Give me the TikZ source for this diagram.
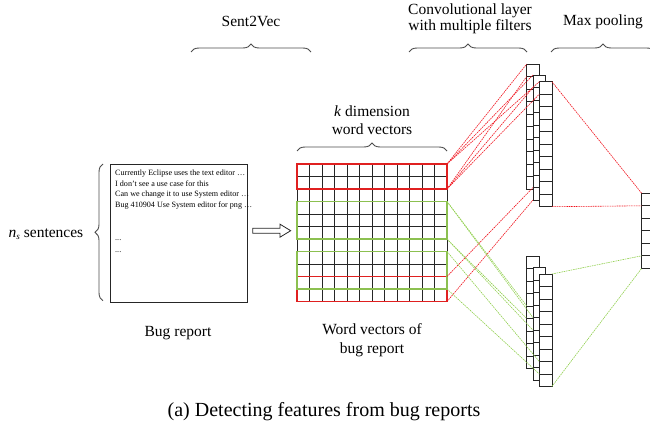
\documentclass[tikz,border=0pt]{standalone}
\usepackage{fontspec}
\setmainfont{Liberation Serif}
\usetikzlibrary{decorations.pathreplacing}
\definecolor{lnred}{HTML}{F0141E}
\definecolor{lngreen}{HTML}{92D050}
\definecolor{boxred}{HTML}{E02020}
\definecolor{boxgreen}{HTML}{8CC050}
\begin{document}
\begin{tikzpicture}[x=1pt,y=-1pt,
  lbl/.style={font=\fontsize{15.5}{18}\selectfont, align=center, inner sep=0pt},
  brc/.style={draw=black!70, line width=0.9pt, decorate, decoration={brace, amplitude=8pt}},
  cell/.style={draw=black!85, fill=white, line width=0.8pt, minimum width=12.6pt, minimum height=12.5pt, inner sep=0pt, outer sep=0pt, anchor=north west},
  gridline/.style={draw=black!85, line width=0.8pt},
  rbox/.style={draw=boxred, line width=1.2pt},
  gbox/.style={draw=boxgreen, line width=1.2pt},
  rdash/.style={draw=lnred, line width=0.6pt, dash pattern=on 1.6pt off 0.8pt},
  gdash/.style={draw=lngreen, line width=0.6pt, dash pattern=on 1.6pt off 0.8pt},
  txt/.style={font=\fontsize{8.1}{10}\selectfont, inner sep=0pt, anchor=base west}]
\useasboundingbox (0,0) rectangle (650,430);

% labels
\node[lbl] (s2v) at (251,21) {Sent2Vec};
\node[lbl] (kdim) at (372,120) {\textit{k} dimension\\word vectors};
\node[lbl, font=\fontsize{15.5}{16.5}\selectfont] (conv) at (470,19) {Convolutional layer\\with multiple filters};
\node[lbl] (mp) at (603,22) {Max pooling};
\node[lbl] (ns) at (46,234) {\textit{n}\raisebox{-0.35ex}{\fontsize{9}{9}\selectfont\textit{s}} sentences};
\node[lbl] (brlbl) at (178,333) {Bug report};
\node[lbl, font=\fontsize{15.5}{19.3}\selectfont] (wv) at (372,340) {Word vectors of\\bug report};
\node[font=\fontsize{20}{24}\selectfont, inner sep=0pt] (cap) at (324,412) {(a) Detecting features from bug reports};

% braces
\draw[brc] (191,52) -- (311,52);
\draw[brc] (297,151) -- (447,151);
\draw[brc] (409,52) -- (527,52);
\draw[brc] (551,52) -- (655,52);
\draw[brc] (103,300.7) -- (103,164);

% bug report box
\node[draw=black!85, line width=0.8pt, minimum width=137.3pt, minimum height=137.7pt, anchor=north west, inner sep=0pt] (bug) at (110,164) {};
\node[txt] (t1) at (115,176) {Currently Eclipse uses the text editor …};
\node[txt] (t2) at (115,186.5) {I don't see a use case for this};
\node[txt] (t3) at (115,197) {Can we change it to use System editor …};
\node[txt] (t4) at (115,207.5) {Bug 410904 Use System editor for png …};
\node[txt] (t5) at (115,241) {...};
\node[txt] (t6) at (115,252.5) {...};

% hollow arrow
\draw[black!85, line width=0.8pt, fill=white] (252.7,228.2) -- (280,228.2) -- (280,224.2) -- (290.7,230.7) -- (280,237.2) -- (280,233.2) -- (252.7,233.2) -- cycle;

% word vector matrix
\foreach \i in {0,...,12} \draw[gridline] (297+12.5*\i,164) -- (297+12.5*\i,301.5);
\foreach \j in {0,...,11} \draw[gridline] (297,164+12.5*\j) -- (447,164+12.5*\j);
\draw[rbox] (297,164) rectangle (447,189);
\draw[rbox] (297,276.5) rectangle (447,301.5);
\draw[gbox] (297,201.5) rectangle (447,239);
\draw[gbox] (297,251.5) rectangle (447,289);
\coordinate (R1t) at (447,164);
\coordinate (R1b) at (447,189);
\coordinate (R2t) at (447,276.5);
\coordinate (R2b) at (447,301.5);
\coordinate (G1t) at (447,201.5);
\coordinate (G1b) at (447,239);
\coordinate (G2t) at (447,251.5);
\coordinate (G2b) at (447,289);

% conv columns (top: filter size 2, bottom: filter size 3)
\foreach \k in {0,...,9} \node[cell] (Ta\k) at (526.7,64+12.5*\k) {};
\foreach \k in {0,...,9} \node[cell] (Tb\k) at (533,75+12.5*\k) {};
\foreach \k in {0,...,9} \node[cell] (Tc\k) at (539.3,81.7+12.5*\k) {};
\foreach \k in {0,...,8} \node[cell] (Ba\k) at (526.7,256+12.5*\k) {};
\foreach \k in {0,...,8} \node[cell] (Bb\k) at (533,267.7+12.5*\k) {};
\foreach \k in {0,...,8} \node[cell] (Bc\k) at (539.3,274+12.5*\k) {};
% max pooling column
\foreach \k in {0,...,5} \node[cell] (M\k) at (641.7,193.3+12.5*\k) {};

% red connectors
\draw[rdash] (R1t) -- (Ta0.north west);
\draw[rdash] (R1b) -- (Ta0.south west);
\draw[rdash] (R1t) -- (Tb0.north west);
\draw[rdash] (R1b) -- (Tb0.south west);
\draw[rdash] (R1t) -- (Tc0.north west);
\draw[rdash] (R1b) -- (Tc0.south west);
\draw[rdash] (R2t) -- (Tb9.north west);
\draw[rdash] (R2b) -- (Tb9.south west);
% green connectors
\draw[gdash] (G1t) -- (Ba4.north west);
\draw[gdash] (G1b) -- (Ba4.south west);
\draw[gdash] (G1t) -- (Bb4.north west);
\draw[gdash] (G1b) -- (Bb4.south west);
\draw[gdash] (G2t) -- (Bc7.north west);
\draw[gdash] (G2b) -- (Bc7.south west);
% to max pooling
\draw[rdash] (Tc0.north east) -- (M0.north west);
\draw[rdash] (Tc9.south east) -- (M0.south west);
\draw[gdash] (Bc0.north east) -- (M5.north west);
\draw[gdash] (Bc8.south east) -- (M5.south west);
\end{tikzpicture}
\end{document}
